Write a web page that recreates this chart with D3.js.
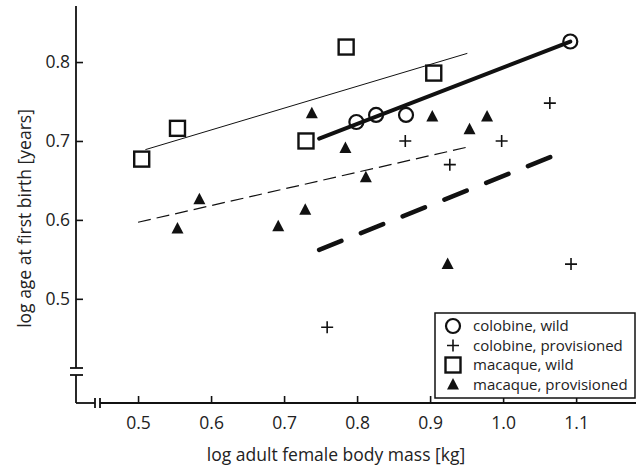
<!DOCTYPE html>
<html lang="en">

<head>
    <meta charset="utf-8" />
    <title>Age at first birth vs body mass</title>
    <script src="https://cdn.jsdelivr.net/npm/d3@7"></script>
    <style>
        body { margin: 0; background: #fff; }
        text { font-family: "Open Sans", "DejaVu Sans", sans-serif; fill: #222; }
    </style>
</head>

<body>
    <div id='chart'></div>
</body>
<script>

    // values (log10 units)
    let colobineWild = [[0.799, 0.724], [0.826, 0.733], [0.867, 0.733], [1.092, 0.826]];
    let colobineProv = [[0.759, 0.464], [0.866, 0.700], [0.927, 0.670], [0.998, 0.700], [1.064, 0.748], [1.093, 0.544]];
    let macaqueWild = [[0.505, 0.677], [0.554, 0.716], [0.730, 0.700], [0.785, 0.819], [0.905, 0.786]];
    let macaqueProv = [[0.554, 0.589], [0.584, 0.626], [0.692, 0.592], [0.729, 0.613], [0.738, 0.735],
        [0.784, 0.691], [0.812, 0.654], [0.903, 0.731], [0.924, 0.544], [0.954, 0.715], [0.978, 0.731]];

    // fitted lines, start and end points
    let fitMacaqueWild = [[0.510, 0.689], [0.951, 0.811]];
    let fitMacaqueProv = [[0.500, 0.597], [0.950, 0.692]];
    let fitColobineWild = [[0.748, 0.703], [1.092, 0.826]];
    let fitColobineProv = [[0.748, 0.562], [1.082, 0.686]];

    let xTicks = [0.5, 0.6, 0.7, 0.8, 0.9, 1.0, 1.1];
    let yTicks = [0.5, 0.6, 0.7, 0.8];
    let legendLabels = ['colobine, wild', 'colobine, provisioned', 'macaque, wild', 'macaque, provisioned'];

    let width = 639, height = 468;
    let margin = { top: 6, bottom: 65, left: 76, right: 3 };

    let svg = d3.select('#chart')
        .append('svg')
        .attr('width', width)
        .attr('height', height);

    let x = d3.scaleLinear()
        .domain([0.415, 1.182])
        .range([margin.left, width - margin.right]);

    let y = d3.scaleLinear()
        .domain([0.368, 0.871])
        .range([height - margin.bottom, margin.top]);

    let x0 = margin.left, y0 = height - margin.bottom;

    // axes (ticks point inward, domain drawn by hand for the breaks)
    let xAxis = d3.axisBottom(x)
        .tickValues(xTicks)
        .tickSizeInner(-7)
        .tickSizeOuter(0)
        .tickPadding(13.5)
        .tickFormat(d3.format('.1f'));
    let yAxis = d3.axisLeft(y)
        .tickValues(yTicks)
        .tickSizeInner(-7)
        .tickSizeOuter(0)
        .tickPadding(6)
        .tickFormat(d3.format('.1f'));

    let gx = svg.append('g')
        .attr('transform', 'translate(0,' + y0 + ')')
        .call(xAxis);
    let gy = svg.append('g')
        .attr('transform', 'translate(' + x0 + ',0)')
        .call(yAxis);
    [gx, gy].forEach(g => {
        g.select('.domain').remove();
        g.selectAll('.tick line').attr('stroke', '#111').attr('stroke-width', 1.6);
        g.selectAll('.tick text').style('font-size', '17.5px').attr('fill', '#222');
    });

    let axisLines = svg.append('g')
        .attr('stroke', '#111')
        .attr('stroke-width', 1.8)
        .attr('fill', 'none');
    // y axis with break
    axisLines.append('line').attr('x1', x0).attr('x2', x0).attr('y1', margin.top).attr('y2', 368);
    axisLines.append('line').attr('x1', x0).attr('x2', x0).attr('y1', 375).attr('y2', y0);
    axisLines.append('line').attr('x1', x0 - 6).attr('x2', x0 + 7).attr('y1', 368).attr('y2', 368);
    axisLines.append('line').attr('x1', x0 - 6).attr('x2', x0 + 7).attr('y1', 375).attr('y2', 375);
    // x axis with break
    axisLines.append('line').attr('x1', x0).attr('x2', 95).attr('y1', y0).attr('y2', y0);
    axisLines.append('line').attr('x1', 100).attr('x2', width - margin.right).attr('y1', y0).attr('y2', y0);
    axisLines.append('line').attr('x1', 95).attr('x2', 95).attr('y1', y0 - 5).attr('y2', y0 + 5);
    axisLines.append('line').attr('x1', 100).attr('x2', 100).attr('y1', y0 - 5).attr('y2', y0 + 5);

    // axis titles
    svg.append('text')
        .attr('x', 336)
        .attr('y', 461)
        .attr('text-anchor', 'middle')
        .style('font-size', '17.5px')
        .text('log adult female body mass [kg]');
    svg.append('text')
        .attr('transform', 'translate(31,' + 218.5 + ') rotate(-90)')
        .attr('text-anchor', 'middle')
        .style('font-size', '17.5px')
        .text('log age at first birth [years]');

    // fitted lines
    let line = d3.line().x(d => x(d[0])).y(d => y(d[1]));
    let fits = [
        { pts: fitMacaqueWild, w: 1, dash: null },
        { pts: fitMacaqueProv, w: 1.2, dash: '13,6' },
        { pts: fitColobineWild, w: 4, dash: null },
        { pts: fitColobineProv, w: 4.5, dash: '24,21' }
    ];
    svg.append('g').selectAll('path')
        .data(fits)
        .enter().append('path')
        .attr('d', d => line(d.pts))
        .attr('fill', 'none')
        .attr('stroke', '#111')
        .attr('stroke-width', d => d.w)
        .attr('stroke-linecap', d => d.w > 2 ? 'round' : 'butt')
        .attr('stroke-dasharray', d => d.dash);

    // marker shapes
    function drawMarker(g, kind) {
        if (kind === 'circle') {
            g.append('circle').attr('r', 7).attr('fill', 'none').attr('stroke', '#111').attr('stroke-width', 2.2);
        } else if (kind === 'plus') {
            g.append('path').attr('d', 'M-6,0H6M0,-6V6').attr('stroke', '#111').attr('stroke-width', 1.6);
        } else if (kind === 'square') {
            g.append('rect').attr('x', -7.5).attr('y', -7.5).attr('width', 15).attr('height', 15)
                .attr('fill', 'none').attr('stroke', '#111').attr('stroke-width', 2.4);
        } else {
            g.append('path').attr('d', 'M0,-6.5L6,5L-6,5Z').attr('fill', '#111');
        }
    }

    let groups = [
        { data: colobineWild, kind: 'circle' },
        { data: colobineProv, kind: 'plus' },
        { data: macaqueWild, kind: 'square' },
        { data: macaqueProv, kind: 'triangle' }
    ];
    groups.forEach(s => {
        svg.append('g').selectAll('g')
            .data(s.data)
            .enter().append('g')
            .attr('transform', d => 'translate(' + x(d[0]) + ',' + y(d[1]) + ')')
            .each(function () { drawMarker(d3.select(this), s.kind); });
    });

    // legend
    let legend = svg.append('g').attr('transform', 'translate(435,313)');
    legend.append('rect')
        .attr('width', 200).attr('height', 85)
        .attr('fill', '#fff').attr('stroke', '#111').attr('stroke-width', 1.5);
    legendLabels.forEach((lbl, i) => {
        let row = legend.append('g').attr('transform', 'translate(18,' + (13 + i * 19.5) + ')');
        drawMarker(row, groups[i].kind);
        row.append('text')
            .attr('x', 20).attr('y', 5)
            .style('font-size', '15px')
            .text(lbl);
    });

</script>

</html>
